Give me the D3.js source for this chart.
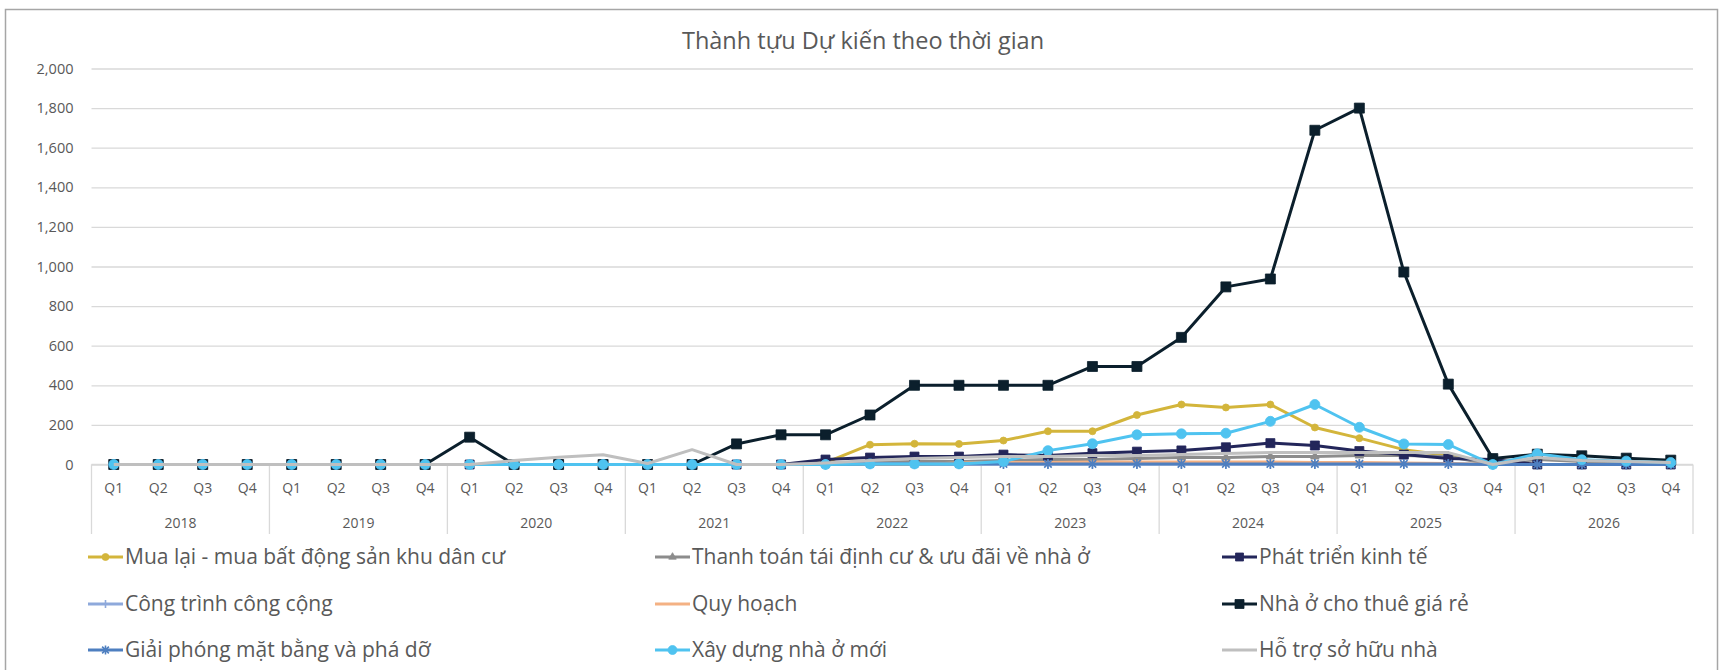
<!DOCTYPE html>
<html>
<head>
<meta charset="utf-8">
<script src="https://cdn.jsdelivr.net/npm/d3@7"></script>
<style>
  html, body { margin: 0; padding: 0; background: #ffffff; }
  svg { display: block; }
  text { font-family: "Open Sans", "Noto Sans", sans-serif; fill: #595959; }
</style>
</head>
<body>
<svg id="chart" width="1721" height="670"></svg>
<script>
// Category axis: years, each split into quarters
const years = ["2018", "2019", "2020", "2021", "2022", "2023", "2024", "2025", "2026"];
const quarters = ["Q1", "Q2", "Q3", "Q4"];

// Y axis tick values
const yTicks = [0, 200, 400, 600, 800, 1000, 1200, 1400, 1600, 1800, 2000];

// Series names (legend order)
const seriesNames = [
  "Mua lại - mua bất động sản khu dân cư",
  "Thanh toán tái định cư & ưu đãi về nhà ở",
  "Phát triển kinh tế",
  "Công trình công cộng",
  "Quy hoạch",
  "Nhà ở cho thuê giá rẻ",
  "Giải phóng mặt bằng và phá dỡ",
  "Xây dựng nhà ở mới",
  "Hỗ trợ sở hữu nhà"
];

// Quarterly values 2018 Q1 .. 2026 Q4
const muaLai = [
  0, 0, 0, 0,   0, 0, 0, 0,   0, 0, 0, 0,   0, 0, 0, 0,
  10, 100, 105, 104,   121, 168, 168, 250,   303, 288, 303, 187,
  133, 75, 45, 0,   0, 0, 0, 0
];
const thanhToan = [
  0, 0, 0, 0,   0, 0, 0, 0,   0, 0, 0, 0,   0, 0, 0, 0,
  5, 10, 15, 15,   20, 25, 25, 30,   35, 35, 40, 40,
  45, 45, 40, 0,   25, 15, 10, 5
];
const phatTrien = [
  0, 0, 0, 0,   0, 0, 0, 0,   0, 0, 0, 0,   0, 0, 0, 0,
  25, 35, 40, 40,   50, 45, 57, 65,   71, 87, 108, 96,
  68, 50, 30, 25,   0, 0, 0, 0
];
const congTrinh = [
  0, 0, 0, 0,   0, 0, 0, 0,   0, 0, 0, 0,   0, 0, 0, 0,
  2, 2, 2, 2,   2, 2, 2, 2,   2, 2, 2, 2,
  2, 2, 2, 0,   0, 0, 0, 0
];
const quyHoach = [
  0, 0, 0, 0,   0, 0, 0, 0,   0, 0, 0, 0,   0, 0, 0, 0,
  0, 0, 0, 8,   10, 10, 12, 12,   12, 12, 12, 10,
  10, 8, 5, 0,   0, 0, 0, 0
];
const nhaOThue = [
  0, 0, 0, 0,   0, 0, 0, 0,   138, 0, 0, 0,   0, 0, 104, 150,
  150, 250, 400, 400,   400, 400, 495, 495,   642, 897, 937, 1688,
  1800, 972, 406, 30,   52, 44, 32, 22
];
const giaiPhong = [
  0, 0, 0, 0,   0, 0, 0, 0,   0, 0, 0, 0,   0, 0, 0, 0,
  0, 3, 3, 3,   3, 3, 3, 3,   3, 3, 3, 3,
  3, 3, 3, 0,   0, 0, 0, 0
];
const xayDung = [
  0, 0, 0, 0,   0, 0, 0, 0,   0, 0, 0, 0,   0, 0, 0, 0,
  0, 3, 3, 3,   15, 70, 105, 150,   155, 158, 218, 303,
  188, 104, 101, 0,   54, 24, 17, 10
];
const hoTro = [
  0, 0, 0, 0,   0, 0, 0, 0,   0, 20, 37, 49,   5, 75, 0, 0,
  8, 20, 30, 35,   40, 40, 45, 45,   50, 55, 60, 60,
  60, 60, 60, 0,   35, 20, 15, 10
];

const seriesValues = [muaLai, thanhToan, phatTrien, congTrinh, quyHoach, nhaOThue, giaiPhong, xayDung, hoTro];
const seriesColors = ["#D3B53B", "#8C8C8C", "#23265A", "#8EA9DB", "#F4B183", "#0B1F2C", "#4E7FC0", "#4FC3F0", "#BFBFBF"];
const seriesMarkers = ["circle", "triangle", "square", "plus", null, "square", "asterisk", "circle", null];
const markerSizes = [7, 8, 9, 9, 0, 10, 10, 10, 0];

// ---------- layout ----------
const svg = d3.select("#chart");
const plot = { left: 91.5, right: 1693, top: 68.5, bottom: 464.5 };

const categories = years.flatMap(y => quarters.map(q => ({ year: y, q, key: y + "-" + q })));

const x = d3.scaleBand()
  .domain(categories.map(d => d.key))
  .range([plot.left, plot.right])
  .padding(0);
const xc = k => x(k) + x.bandwidth() / 2;

const y = d3.scaleLinear().domain([0, 2000]).range([plot.bottom, plot.top]);

// chart area frame
svg.append("rect")
  .attr("x", 5.5).attr("y", 9.5)
  .attr("width", 1712).attr("height", 680)
  .attr("fill", "#ffffff")
  .attr("stroke", "#A6A6A6")
  .attr("stroke-width", 1.5);

// title
svg.append("text")
  .attr("x", 863).attr("y", 49)
  .attr("text-anchor", "middle")
  .style("font-size", "23.5px")
  .text("Thành tựu Dự kiến theo thời gian");

// horizontal gridlines + y labels via axis
const yAxis = d3.axisLeft(y)
  .tickValues(yTicks)
  .tickFormat(d3.format(","))
  .tickSize(-(plot.right - plot.left))
  .tickPadding(18);

const gy = svg.append("g")
  .attr("transform", `translate(${plot.left},0)`)
  .call(yAxis);
gy.select(".domain").remove();
gy.selectAll(".tick line").attr("stroke", "#D9D9D9").attr("stroke-width", 1.3);
gy.selectAll(".tick text")
  .style("font-size", "14.5px")
  .attr("fill", "#595959");

// category axis line
svg.append("line")
  .attr("x1", plot.left).attr("x2", plot.right)
  .attr("y1", y(0)).attr("y2", y(0))
  .attr("stroke", "#D9D9D9").attr("stroke-width", 1.3);

// quarter labels
const xAxis = d3.axisBottom(x)
  .tickFormat(k => k.split("-")[1])
  .tickSize(0)
  .tickPadding(19);
const gx = svg.append("g")
  .attr("transform", `translate(0,${y(0)})`)
  .call(xAxis);
gx.select(".domain").remove();
gx.selectAll(".tick text")
  .style("font-size", "14px")
  .attr("fill", "#595959");

// year separators and labels
const yearEdges = years.map(yr => x(yr + "-Q1")).concat([plot.right]);
svg.append("g").selectAll("line")
  .data(yearEdges)
  .join("line")
  .attr("x1", d => d).attr("x2", d => d)
  .attr("y1", y(0)).attr("y2", 534)
  .attr("stroke", "#D9D9D9").attr("stroke-width", 1.3);

svg.append("g").selectAll("text")
  .data(years)
  .join("text")
  .attr("x", yr => (x(yr + "-Q1") + x(yr + "-Q4") + x.bandwidth()) / 2)
  .attr("y", 528)
  .attr("text-anchor", "middle")
  .style("font-size", "14px")
  .text(d => d);

// ---------- markers ----------
function markerPath(type, s) {
  const r = s / 2;
  switch (type) {
    case "circle": return d3.symbol(d3.symbolCircle, Math.PI * r * r)();
    case "square": return d3.symbol(d3.symbolSquare, s * s)();
    case "triangle": return d3.symbol(d3.symbolTriangle, s * s * 0.5)();
    case "plus": return `M${-r},0H${r}M0,${-r}V${r}`;
    case "asterisk": {
      const k = r * 0.75;
      return `M0,${-r}V${r}M${-k},${-k}L${k},${k}M${-k},${k}L${k},${-k}M${-r},0H${r}`;
    }
  }
  return null;
}
const strokeMarkers = new Set(["plus", "asterisk"]);

const line = d3.line()
  .x(d => xc(d.key))
  .y(d => y(d.v));

const seriesG = svg.append("g");
seriesValues.forEach((vals, i) => {
  const pts = categories.map((c, j) => ({ key: c.key, v: vals[j] }));
  const g = seriesG.append("g");
  g.append("path")
    .datum(pts)
    .attr("d", line)
    .attr("fill", "none")
    .attr("stroke", seriesColors[i])
    .attr("stroke-width", 3)
    .attr("stroke-linejoin", "round");
  const m = seriesMarkers[i];
  if (m) {
    const p = markerPath(m, markerSizes[i]);
    g.selectAll("path.mk")
      .data(pts)
      .join("path")
      .attr("class", "mk")
      .attr("transform", d => `translate(${xc(d.key)},${y(d.v)})`)
      .attr("d", p)
      .attr("fill", strokeMarkers.has(m) ? "none" : seriesColors[i])
      .attr("stroke", seriesColors[i])
      .attr("stroke-width", strokeMarkers.has(m) ? 1.6 : 0.8);
  }
});

// ---------- legend ----------
const legCols = [88, 655, 1222];
const legRows = [557, 604, 650];
const leg = svg.append("g");
seriesNames.forEach((name, i) => {
  const lx = legCols[i % 3];
  const ly = legRows[Math.floor(i / 3)];
  const g = leg.append("g").attr("transform", `translate(${lx},${ly})`);
  g.append("line")
    .attr("x1", 0).attr("x2", 35)
    .attr("y1", 0).attr("y2", 0)
    .attr("stroke", seriesColors[i])
    .attr("stroke-width", 3);
  const m = seriesMarkers[i];
  if (m) {
    g.append("path")
      .attr("transform", "translate(17.5,0)")
      .attr("d", markerPath(m, Math.max(7, markerSizes[i] - 1)))
      .attr("fill", strokeMarkers.has(m) ? "none" : seriesColors[i])
      .attr("stroke", seriesColors[i])
      .attr("stroke-width", strokeMarkers.has(m) ? 1.6 : 0.8);
  }
  g.append("text")
    .attr("x", 37).attr("y", 0)
    .attr("dy", "0.35em")
    .style("font-size", "21px")
    .text(name);
});
</script>
</body>
</html>
